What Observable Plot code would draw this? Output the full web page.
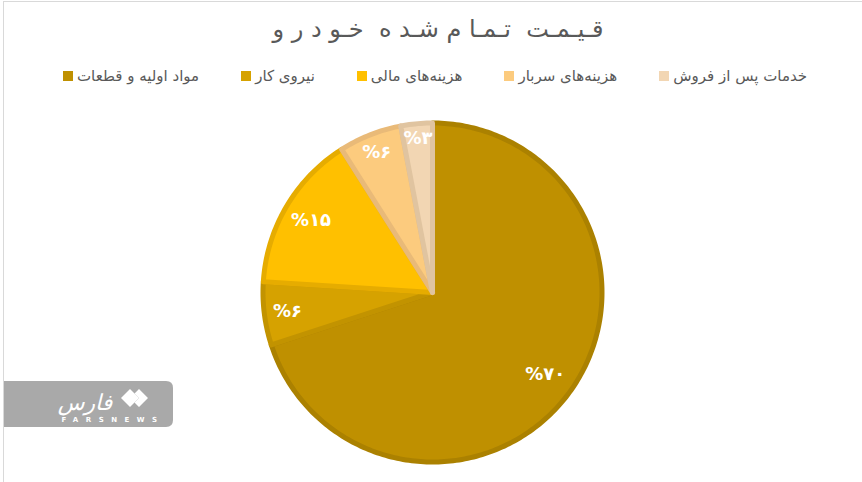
<!DOCTYPE html>
<html><head><meta charset="utf-8">
<script src="https://cdn.jsdelivr.net/npm/d3@7"></script>
<script src="https://cdn.jsdelivr.net/npm/@observablehq/plot@0.6"></script>
<style>
body{margin:0;background:#fff;font-family:"DejaVu Sans",Tahoma,sans-serif;}
#frame{position:relative;width:862px;height:482px;overflow:hidden;background:#fff}
#border{position:absolute;left:3px;top:1px;width:862px;height:490px;border:1px solid #d9d9d9;box-sizing:border-box;pointer-events:none}
#title{position:absolute;top:15px;left:0;width:876px;text-align:center;font-size:24px;color:#595959;direction:rtl;white-space:pre}
#legend{position:absolute;top:67px;left:63px;width:800px;display:flex;flex-direction:row;align-items:center;gap:42px;font-size:15px;color:#595959;direction:ltr}
.item{display:flex;align-items:center;gap:4px}
.sw{width:10px;height:10px;display:inline-block}
#chart{position:absolute;top:100px;left:0}
#wm{position:absolute;left:0;top:379px}
</style></head>
<body><div id="frame">
<div id="title">قـیـمـت  تـمـا م شـد ه  خـو د ر و</div>
<div id="legend"></div>
<div id="chart"></div>
<svg id="wm" width="180" height="52">
  <path d="M4 2 H166 Q173 2 173 9 V41 Q173 48 166 48 H4 Z" fill="#a9a9a9"/>
  <text x="85" y="31" text-anchor="middle" fill="#fff" font-size="22" font-style="italic" font-family="DejaVu Sans">فارس</text>
  <path d="M130 10 L139 19 L130 28 L121 19 Z" fill="#fff"/>
  <path d="M139 10 L148 19 L139 28 L134.5 23.5 L139 19 L134.5 14.5 Z" fill="#fff"/>
  <text x="113" y="43" text-anchor="middle" fill="#fff" font-size="7" font-weight="bold" letter-spacing="7.5" font-family="DejaVu Sans">FARSNEWS</text>
</svg>
<div id="border"></div>
</div>
<script>
const categories = ["مواد اولیه و قطعات", "نیروی کار", "هزینه‌های مالی", "هزینه‌های سربار", "خدمات پس از فروش"];
const values = [70, 6, 15, 6, 3];
const labels = ["%۷۰", "%۶", "%۱۵", "%۶", "%۳"];
const fills = ["#bf9000", "#d6a200", "#ffc000", "#fccb7e", "#f2d6b3"];
const strokes = ["#ab8100", "#c29300", "#e6ac00", "#e9ba78", "#e0c4a0"];

// legend
const leg = document.getElementById("legend");
categories.forEach((c, i) => {
  const it = document.createElement("div"); it.className = "item";
  const sw = document.createElement("span"); sw.className = "sw"; sw.style.background = fills[i];
  const tx = document.createElement("span"); tx.dir = "rtl"; tx.textContent = c;
  it.appendChild(sw); it.appendChild(tx); leg.appendChild(it);
});

// slices from values
const total = d3.sum(values);
let acc = 0;
const slices = values.map((v, i) => {
  const a0 = acc / total * 2 * Math.PI; acc += v;
  const a1 = acc / total * 2 * Math.PI;
  return {name: categories[i], value: v, label: labels[i], a0, a1, fill: fills[i], stroke: strokes[i]};
});
const inset = 2.5 / 172;
function slicePoints(s) {
  const pts = [{x: 0, y: 0}];
  const n = Math.max(2, Math.ceil((s.a1 - s.a0) / (Math.PI / 180)));
  for (let k = 0; k <= n; k++) {
    const a = s.a0 + (s.a1 - s.a0) * k / n;
    pts.push({x: (1 - inset) * Math.sin(a), y: (1 - inset) * Math.cos(a)});
  }
  pts.push({x: 0, y: 0});
  return pts;
}
const labelR = [0.81, 0.85, 0.82, 0.88, 0.9];
const labelData = slices.map((s, i) => {
  const m = (s.a0 + s.a1) / 2;
  return {label: s.label, x: labelR[i] * Math.sin(m), y: labelR[i] * Math.cos(m)};
});

const R = 172, cx = 432, cy = 192;
const marks = [];
slices.forEach(s => {
  marks.push(Plot.line(slicePoints(s), {x: "x", y: "y", fill: s.fill, stroke: s.stroke, strokeWidth: 5, strokeLinejoin: "round"}));
});
marks.push(Plot.text(labelData, {x: "x", y: "y", text: "label", fill: "white", fontSize: 18, fontWeight: "bold", fontFamily: "DejaVu Sans"}));

const chart = Plot.plot({
  width: 862, height: 382, margin: 0,
  x: {domain: [-1, 1], range: [cx - R, cx + R], axis: null},
  y: {domain: [-1, 1], range: [cy + R, cy - R], axis: null},
  style: {background: "transparent", overflow: "visible"},
  marks
});
document.getElementById("chart").appendChild(chart);
</script>
</body></html>
